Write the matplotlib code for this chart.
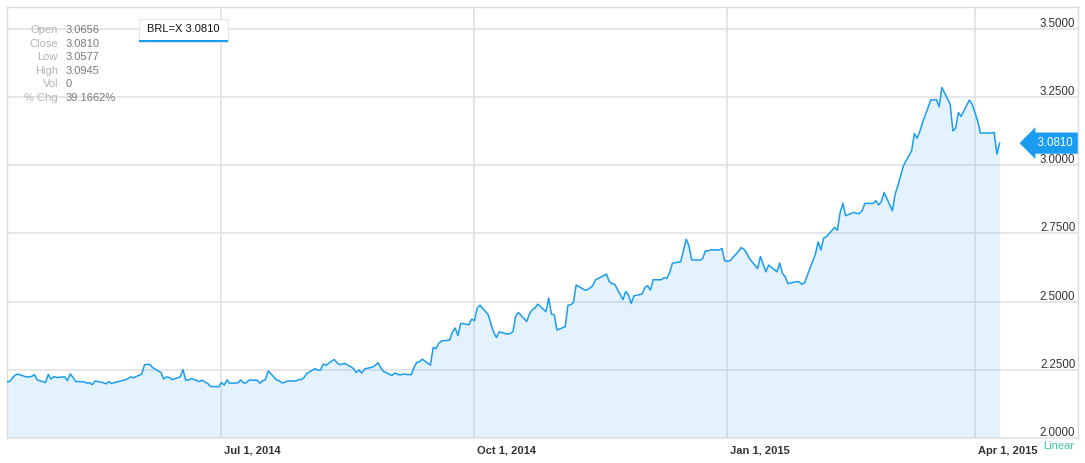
import matplotlib
matplotlib.use("Agg")
import matplotlib.pyplot as plt
import matplotlib.transforms as mtransforms
from matplotlib.patches import Rectangle
import pandas as pd

plt.rcParams['font.family'] = ['Liberation Sans', 'DejaVu Sans']

# BRL=X daily close, one value per business day, month by month
apr_2014 = [2.207, 2.207, 2.220, 2.231, 2.234, 2.224, 2.224, 2.226, 2.232, 2.213, 2.203, 2.233, 2.216]
may_2014 = [2.225, 2.222, 2.224, 2.210, 2.235, 2.222, 2.207, 2.206, 2.201, 2.203, 2.195, 2.209,
            2.203, 2.198, 2.207, 2.200, 2.203, 2.211, 2.213, 2.218, 2.224, 2.221]
jun_2014 = [2.234, 2.268, 2.270, 2.269, 2.258, 2.240, 2.216, 2.224, 2.222, 2.214, 2.224, 2.251,
            2.212, 2.212, 2.218, 2.207, 2.212, 2.205, 2.200, 2.189, 2.188]
jul_2014 = [2.203, 2.194, 2.213, 2.201, 2.202, 2.213, 2.202, 2.202, 2.212, 2.212, 2.201, 2.210,
            2.214, 2.246, 2.213, 2.210, 2.202, 2.204, 2.209, 2.209, 2.214, 2.214, 2.221]
aug_2014 = [2.236, 2.254, 2.249, 2.249, 2.271, 2.267, 2.288, 2.276, 2.269, 2.271, 2.273, 2.255,
            2.240, 2.249, 2.238, 2.253, 2.260, 2.267, 2.276, 2.256, 2.244]
sep_2014 = [2.229, 2.238, 2.234, 2.231, 2.234, 2.232, 2.258, 2.277, 2.279, 2.289, 2.267, 2.332,
            2.328, 2.346, 2.356, 2.359, 2.389, 2.403, 2.375, 2.420, 2.415, 2.436]
oct_2014 = [2.430, 2.476, 2.487, 2.452, 2.418, 2.387, 2.368, 2.389, 2.381, 2.383, 2.390, 2.447,
            2.460, 2.427, 2.454, 2.470, 2.476, 2.491, 2.463, 2.513, 2.454, 2.452, 2.396]
nov_2014 = [2.408, 2.487, 2.488, 2.497, 2.561, 2.543, 2.543, 2.550, 2.558, 2.580, 2.595, 2.601,
            2.574, 2.566, 2.564, 2.507, 2.537, 2.525, 2.493, 2.521]
dec_2014 = [2.528, 2.552, 2.558, 2.542, 2.580, 2.580, 2.588, 2.585, 2.607, 2.641, 2.646, 2.686,
            2.729, 2.705, 2.653, 2.652, 2.658, 2.686, 2.686, 2.690, 2.689, 2.695, 2.650]
jan_2015 = [2.648, 2.650, 2.684, 2.698, 2.692, 2.678, 2.658, 2.621, 2.665, 2.637, 2.609, 2.634,
            2.609, 2.641, 2.604, 2.591, 2.566, 2.573, 2.573, 2.564, 2.568, 2.595]
feb_2015 = [2.674, 2.719, 2.689, 2.733, 2.738, 2.772, 2.762, 2.827, 2.860, 2.815, 2.827, 2.823,
            2.823, 2.833, 2.860, 2.860, 2.870, 2.854, 2.867, 2.900]
mar_2015 = [2.833, 2.894, 2.925, 2.961, 2.998, 3.053, 3.116, 3.099, 3.124, 3.157, 3.240, 3.239,
            3.241, 3.214, 3.285, 3.224, 3.126, 3.135, 3.193, 3.179, 3.239, 3.224]
apr_2015 = [3.193, 3.163, 3.118, 3.118, 3.118, 3.120, 3.041, 3.081]

months = [
    ("2014-04-14", "2014-04-30", apr_2014),
    ("2014-05-01", "2014-05-31", may_2014),
    ("2014-06-01", "2014-06-30", jun_2014),
    ("2014-07-01", "2014-07-31", jul_2014),
    ("2014-08-01", "2014-08-31", aug_2014),
    ("2014-09-01", "2014-09-30", sep_2014),
    ("2014-10-01", "2014-10-31", oct_2014),
    ("2014-11-01", "2014-11-30", nov_2014),
    ("2014-12-01", "2014-12-31", dec_2014),
    ("2015-01-01", "2015-01-31", jan_2015),
    ("2015-02-01", "2015-02-28", feb_2015),
    ("2015-03-01", "2015-03-31", mar_2015),
    ("2015-04-01", "2015-04-10", apr_2015),
]

y_ticks = [2.0, 2.25, 2.5, 2.75, 3.0, 3.25, 3.5]
x_ticks = ["2014-07-01", "2014-10-01", "2015-01-01", "2015-04-01"]
x_labels = ["Jul 1, 2014", "Oct 1, 2014", "Jan 1, 2015", "Apr 1, 2015"]

info_names = ["Open", "Close", "Low", "High", "Vol", "% Chg"]
info_values = ["3.0656", "3.0810", "3.0577", "3.0945", "0", "39.1662%"]
last_close = 3.0810

# build series
parts = []
for start, end, vals in months:
    days = pd.bdate_range(start, end)
    assert len(days) == len(vals), (start, len(days), len(vals))
    parts.append(pd.Series(vals, index=days))
series = pd.concat(parts)

W, H = 1085, 463
fig = plt.figure(figsize=(W / 100, H / 100), dpi=100)
ax = fig.add_axes([7 / W, 1 - 438 / H, (1078 - 7) / W, (438 - 7) / H])

line_col = '#1a9cf0'
grid_col = '#e2e2e6'

ax.set_xlim(pd.Timestamp("2014-04-14"), pd.Timestamp("2015-05-08 12:00"))
ax.set_ylim(2.0, 3.58)

for t in y_ticks:
    ax.axhline(t, color=grid_col, lw=1.2, zorder=1)
for t in x_ticks:
    ax.axvline(pd.Timestamp(t), color=grid_col, lw=1.2, zorder=1)

ax.fill_between(series.index, series.values, 2.0, color=line_col, alpha=0.12, lw=0, zorder=2)
ax.plot(series.index, series.values, color=line_col, lw=1.1, zorder=3)

ax.set_xticks([])
ax.set_yticks([])
for s in ax.spines.values():
    s.set_color('#dcdcdc')
    s.set_linewidth(1.0)
ax.spines['bottom'].set_color('#e8e8e8')

# y labels inside plot, right side, sitting on the grid line
ytrans = mtransforms.blended_transform_factory(ax.transAxes, ax.transData)
lift = mtransforms.ScaledTranslation(0, -1 / 100, fig.dpi_scale_trans)
for t in y_ticks:
    ax.text(0.9975, t, f"{t:.4f}", transform=ytrans + lift, ha='right', va='bottom',
            fontsize=8.3, color='#333333')

# x labels below, just right of their grid line
xtrans = mtransforms.blended_transform_factory(ax.transData, ax.transAxes)
shift = mtransforms.ScaledTranslation(3 / 100, 0, fig.dpi_scale_trans)
for t, lab in zip(x_ticks, x_labels):
    ax.text(pd.Timestamp(t), -0.018, lab, transform=xtrans + shift,
            ha='left', va='top', fontsize=8, fontweight='bold', color='#333333')
fig.text(1043 / W, 1 - 446 / H, "Linear", ha='left', va='center', fontsize=8, color='#3cc3a0')

# last price tag
ax.text(0.9955, last_close, f"  {last_close:.4f}", transform=ytrans, ha='right', va='center',
        fontsize=8.3, color='white', zorder=6,
        bbox=dict(boxstyle='larrow,pad=0.4', fc=line_col, ec='none'))

# OHLC info block
for i, (n, v) in enumerate(zip(info_names, info_values)):
    yy = 1 - (30 + 13.6 * i) / H
    fig.text(58 / W, yy, n, ha='right', va='center', fontsize=8, color='#b4b4b4')
    fig.text(66 / W, yy, v, ha='left', va='center', fontsize=8, color='#7a7a7a')

# legend box
fig.patches.append(Rectangle((139 / W, 1 - 42 / H), 89 / W, 23 / H, transform=fig.transFigure,
                             fc='white', ec='#e6e6e6', lw=0.8, zorder=5))
fig.patches.append(Rectangle((139 / W, 1 - 42 / H), 89 / W, 2 / H, transform=fig.transFigure,
                             fc=line_col, ec='none', zorder=6))
fig.text(183 / W, 1 - 29 / H, f"BRL=X {last_close:.4f}", ha='center', va='center',
         fontsize=8, color='#111111', zorder=7)

fig.savefig("out.png", dpi=100)
